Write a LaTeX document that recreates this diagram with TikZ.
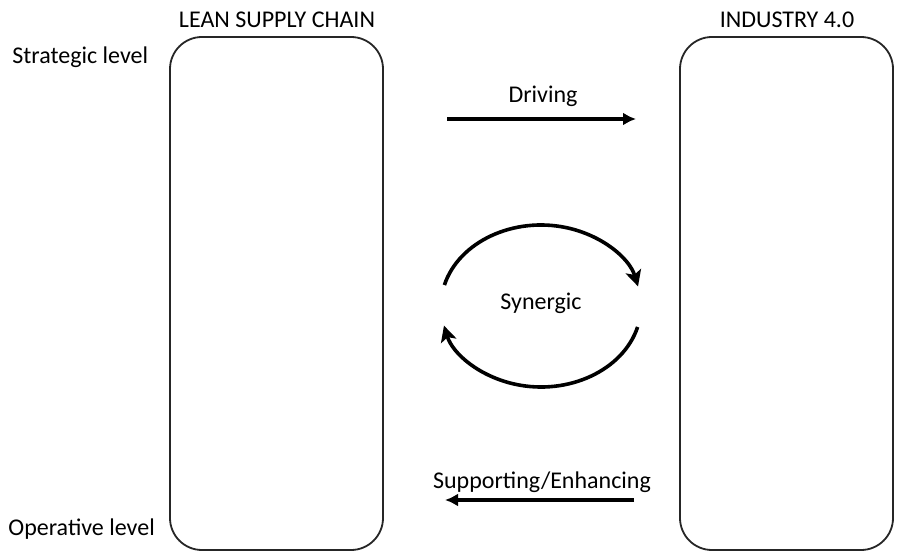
\documentclass[tikz,border=0pt]{standalone}
\usepackage{fontspec}
\setmainfont{Carlito}
\usepackage{tikz}
\usetikzlibrary{positioning,arrows.meta}
\tikzset{
	pillar/.style={draw=black!85, line width=0.9pt, rounded corners=16pt,
		minimum width=106.5pt, minimum height=256.5pt},
	flow/.style={line width=1.8pt,-{Latex[length=6.5pt,width=6.5pt]}},
	cyc/.style={line width=1.8pt,-{Stealth[length=8pt,width=8pt,inset=2pt]}},
	lbl/.style={font=\fontsize{12}{14}\selectfont, inner sep=0pt, anchor=base}
}

\begin{document}
\begin{tikzpicture}[x=0.5pt,y=-0.5pt]
\useasboundingbox (0,0) rectangle (915,555);

%Colonnes
\node[pillar] (lean) at (276.5,293.5) {};
\node[pillar] (ind) at (786.5,293.5) {};

%Titres
\node[lbl] (leanT) at (277,28) {LEAN SUPPLY CHAIN};
\node[lbl] (indT) at (787,28) {INDUSTRY 4.0};

%Niveaux
\node[lbl,anchor=base west] (strat) at (12,64) {Strategic level};
\node[lbl,anchor=base west] (oper) at (8,535) {Operative level};

%Fleches
\coordinate (drvA) at (447,119);
\coordinate (drvB) at (636,119);
\draw[flow] (drvA) -- (drvB);
\node[lbl] (drv) at (543,103) {Driving};

\coordinate (supA) at (634,500);
\coordinate (supB) at (445,500);
\draw[flow] (supA) -- (supB);
\node[lbl] (sup) at (542,488) {Supporting/Enhancing};

%Cycle
\coordinate (syn) at (541,306);
\node[lbl] (synT) at (541,310) {Synergic};
\draw[cyc] (syn) ++(195:100 and 81) arc[start angle=195, end angle=346, x radius=100, y radius=81];
\draw[cyc] (syn) ++(15:100 and 81) arc[start angle=15, end angle=166, x radius=100, y radius=81];

\end{tikzpicture}
\end{document}
